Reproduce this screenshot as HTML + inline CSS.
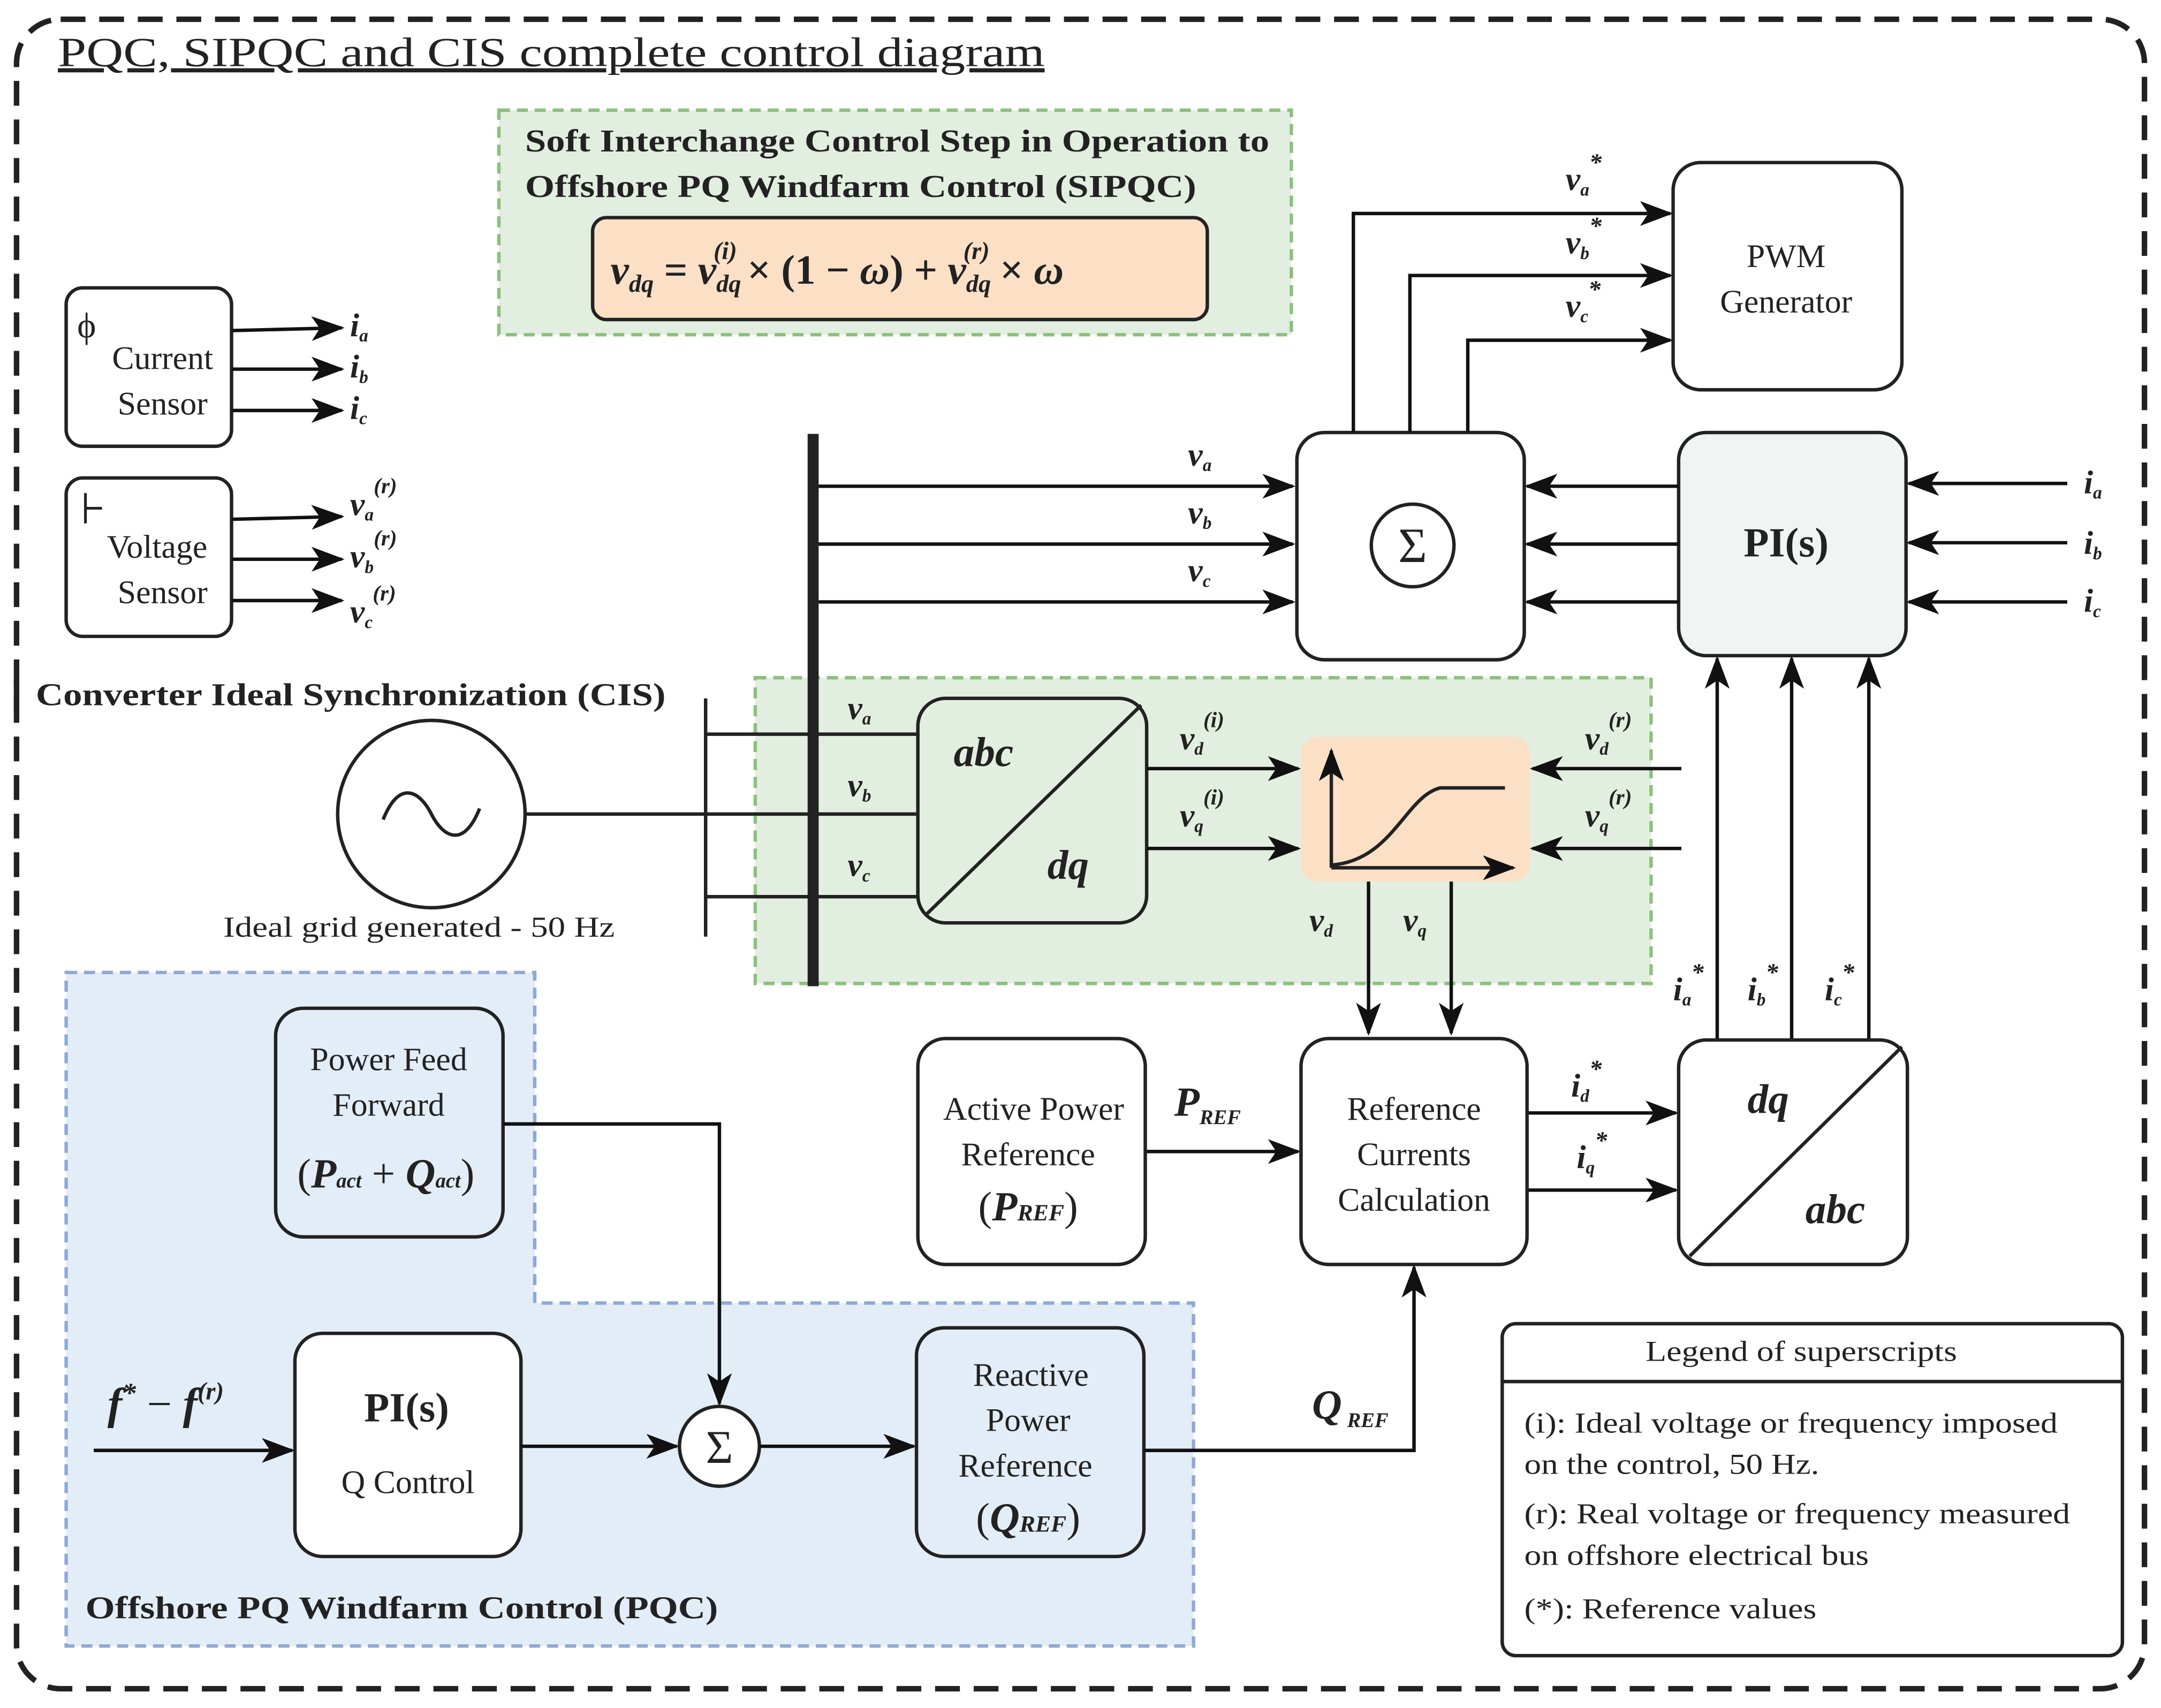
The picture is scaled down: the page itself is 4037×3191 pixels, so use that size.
<!DOCTYPE html>
<html><head><meta charset="utf-8"><style>
html,body{margin:0;padding:0;background:#fff}
svg{display:block}
text{font-family:"Liberation Serif",serif;fill:#222}
.m{font-style:italic;font-weight:bold}
</style></head><body>
<svg width="4037" height="3191" viewBox="0 0 1568 1240" preserveAspectRatio="none" xmlns="http://www.w3.org/2000/svg">
<defs>
<marker id="a" markerUnits="userSpaceOnUse" markerWidth="24" markerHeight="20" refX="22" refY="10" orient="auto">
<path d="M0,1 L24,10 L0,19 L6,10 Z" fill="#111"/></marker>
</defs>
<rect x="12" y="14" width="1544" height="1212" rx="32" fill="none" stroke="#222" stroke-width="4" stroke-dasharray="18 10"/>
<text x="42" y="48" font-size="30" text-decoration="underline" textLength="716" lengthAdjust="spacingAndGlyphs">PQC, SIPQC and CIS complete control diagram</text>

<!-- top green -->
<rect x="362" y="80" width="575" height="163" fill="#e2eedf" stroke="#8cc07e" stroke-width="2.5" stroke-dasharray="8 5"/>
<text x="381" y="110" font-size="23" font-weight="bold" textLength="540" lengthAdjust="spacingAndGlyphs">Soft Interchange Control Step in Operation to</text>
<text x="381" y="143" font-size="23" font-weight="bold" textLength="487" lengthAdjust="spacingAndGlyphs">Offshore PQ Windfarm Control (SIPQC)</text>
<rect x="430" y="158" width="446" height="74" rx="10" fill="#fbe0c6" stroke="#222" stroke-width="2.5"/>
<text x="443" y="206" font-size="30" class="m">v<tspan font-size="18" dy="6">dq</tspan><tspan dy="-6" font-style="normal"> = </tspan>v<tspan font-size="18" dy="6">dq</tspan><tspan font-size="18" dx="-20" dy="-24">(i)</tspan><tspan dy="18" font-style="normal"> × (1 − </tspan>ω<tspan font-style="normal">) + </tspan>v<tspan font-size="18" dy="6">dq</tspan><tspan font-size="18" dx="-20" dy="-24">(r)</tspan><tspan dy="18" font-style="normal"> × </tspan>ω</text>

<g stroke="#222" stroke-width="2.5" fill="none">
<rect x="48" y="209" width="120" height="115" rx="12"/>
<rect x="48" y="347" width="120" height="115" rx="12"/>
<rect x="941" y="314" width="165" height="165" rx="20" fill="#fff"/>
<rect x="1218" y="314" width="165" height="162" rx="20" fill="#f2f4f3"/>
<rect x="1214" y="118" width="166" height="165" rx="20"/>
<circle cx="1025" cy="396" r="30"/>
</g>
<text x="56" y="245" font-size="26">ϕ</text>
<line x1="62" y1="358" x2="62" y2="380" stroke="#222" stroke-width="2"/><line x1="62" y1="369" x2="74" y2="369" stroke="#222" stroke-width="2"/>
<text x="118" y="268" font-size="24" text-anchor="middle">Current</text>
<text x="118" y="301" font-size="24" text-anchor="middle">Sensor</text>
<text x="114" y="405" font-size="24" text-anchor="middle">Voltage</text>
<text x="118" y="438" font-size="24" text-anchor="middle">Sensor</text>
<g stroke="#111" stroke-width="2.5" marker-end="url(#a)">
<line x1="168" y1="240" x2="248" y2="238"/><line x1="168" y1="268" x2="248" y2="268"/><line x1="168" y1="298" x2="248" y2="298"/>
<line x1="168" y1="377" x2="248" y2="375"/><line x1="168" y1="406" x2="248" y2="406"/><line x1="168" y1="436" x2="248" y2="436"/>
</g>
<g font-size="24" class="m">
<text x="254" y="244">i<tspan font-size="13" dy="4">a</tspan></text>
<text x="254" y="274">i<tspan font-size="13" dy="4">b</tspan></text>
<text x="254" y="304">i<tspan font-size="13" dy="4">c</tspan></text>
<text x="254" y="374">v<tspan font-size="13" dy="4">a</tspan><tspan font-size="16" dy="-20">(r)</tspan></text>
<text x="254" y="412">v<tspan font-size="13" dy="4">b</tspan><tspan font-size="16" dy="-20">(r)</tspan></text>
<text x="254" y="452">v<tspan font-size="13" dy="4">c</tspan><tspan font-size="16" dy="-20">(r)</tspan></text>
</g>

<text x="26" y="512" font-size="23" font-weight="bold" textLength="457" lengthAdjust="spacingAndGlyphs">Converter Ideal Synchronization (CIS)</text>
<line x1="12" y1="494" x2="12" y2="516" stroke="#222" stroke-width="4"/>

<!-- green middle -->
<rect x="548" y="492" width="650" height="222" fill="#e2eedf" stroke="#8cc07e" stroke-width="2.5" stroke-dasharray="8 5"/>
<circle cx="313" cy="591" r="68" fill="#fff" stroke="#222" stroke-width="2.5"/>
<path d="M278,595 C290,565 305,575 313,591 C321,607 336,617 348,587" fill="none" stroke="#222" stroke-width="2.5"/>
<text x="162" y="680" font-size="21" textLength="284" lengthAdjust="spacingAndGlyphs">Ideal grid  generated - 50 Hz</text>
<g stroke="#222" stroke-width="2.5">
<line x1="381" y1="591" x2="512" y2="591"/>
<line x1="512" y1="507" x2="512" y2="680"/>
<line x1="512" y1="533" x2="666" y2="533"/><line x1="512" y1="591" x2="666" y2="591"/><line x1="512" y1="651" x2="666" y2="651"/>
</g>
<rect x="666" y="507" width="166" height="163" rx="20" fill="#e2eedf" stroke="#222" stroke-width="2.5"/>
<line x1="672" y1="664" x2="828" y2="512" stroke="#222" stroke-width="2.5"/>
<text x="692" y="556" font-size="30" class="m">abc</text>
<text x="760" y="638" font-size="30" class="m">dq</text>
<line x1="590" y1="315" x2="590" y2="716" stroke="#222" stroke-width="8"/>
<g font-size="24" class="m">
<text x="615" y="522">v<tspan font-size="13" dy="4">a</tspan></text>
<text x="615" y="578">v<tspan font-size="13" dy="4">b</tspan></text>
<text x="615" y="636">v<tspan font-size="13" dy="4">c</tspan></text>
<text x="862" y="338">v<tspan font-size="13" dy="4">a</tspan></text>
<text x="862" y="380">v<tspan font-size="13" dy="4">b</tspan></text>
<text x="862" y="422">v<tspan font-size="13" dy="4">c</tspan></text>
<text x="856" y="544">v<tspan font-size="13" dy="4">d</tspan><tspan font-size="16" dy="-20">(i)</tspan></text>
<text x="856" y="600">v<tspan font-size="13" dy="4">q</tspan><tspan font-size="16" dy="-20">(i)</tspan></text>
<text x="1150" y="544">v<tspan font-size="13" dy="4">d</tspan><tspan font-size="16" dy="-20">(r)</tspan></text>
<text x="1150" y="600">v<tspan font-size="13" dy="4">q</tspan><tspan font-size="16" dy="-20">(r)</tspan></text>
<text x="950" y="676">v<tspan font-size="13" dy="4">d</tspan></text>
<text x="1018" y="676">v<tspan font-size="13" dy="4">q</tspan></text>
<text x="1136" y="138">v<tspan font-size="13" dy="4">a</tspan><tspan font-size="18" dy="-18">*</tspan></text>
<text x="1136" y="184">v<tspan font-size="13" dy="4">b</tspan><tspan font-size="18" dy="-18">*</tspan></text>
<text x="1136" y="230">v<tspan font-size="13" dy="4">c</tspan><tspan font-size="18" dy="-18">*</tspan></text>
<text x="1512" y="358">i<tspan font-size="13" dy="4">a</tspan></text>
<text x="1512" y="402">i<tspan font-size="13" dy="4">b</tspan></text>
<text x="1512" y="444">i<tspan font-size="13" dy="4">c</tspan></text>
<text x="1214" y="726">i<tspan font-size="13" dy="4">a</tspan><tspan font-size="18" dy="-18">*</tspan></text>
<text x="1268" y="726">i<tspan font-size="13" dy="4">b</tspan><tspan font-size="18" dy="-18">*</tspan></text>
<text x="1324" y="726">i<tspan font-size="13" dy="4">c</tspan><tspan font-size="18" dy="-18">*</tspan></text>
<text x="1140" y="796">i<tspan font-size="13" dy="4">d</tspan><tspan font-size="18" dy="-18">*</tspan></text>
<text x="1144" y="848">i<tspan font-size="13" dy="4">q</tspan><tspan font-size="18" dy="-18">*</tspan></text>
<text x="852" y="810" font-size="30">P<tspan font-size="15" dy="6">REF</tspan></text>
<text x="952" y="1030" font-size="30">Q<tspan font-size="15" dy="6"> REF</tspan></text>
</g>
<rect x="944" y="535" width="166" height="105" rx="12" fill="#fbe0c6"/>
<g stroke="#222" stroke-width="2.5" fill="none">
<line x1="966" y1="630" x2="966" y2="545" marker-end="url(#a)"/>
<line x1="966" y1="630" x2="1098" y2="630" marker-end="url(#a)"/>
<path d="M966,628 C1010,625 1020,578 1045,572 L1092,572"/>
</g>
<text x="1025" y="408" font-size="36" text-anchor="middle">Σ</text>
<text x="1296" y="404" font-size="30" font-weight="bold" text-anchor="middle">PI(s)</text>
<text x="1296" y="194" font-size="24" text-anchor="middle">PWM</text>
<text x="1296" y="227" font-size="24" text-anchor="middle">Generator</text>

<g stroke="#111" stroke-width="2.5" fill="none">
<line x1="594" y1="353" x2="938" y2="353" marker-end="url(#a)"/>
<line x1="594" y1="395" x2="938" y2="395" marker-end="url(#a)"/>
<line x1="594" y1="437" x2="938" y2="437" marker-end="url(#a)"/>
<line x1="1218" y1="353" x2="1108" y2="353" marker-end="url(#a)"/>
<line x1="1218" y1="395" x2="1108" y2="395" marker-end="url(#a)"/>
<line x1="1218" y1="437" x2="1108" y2="437" marker-end="url(#a)"/>
<line x1="1500" y1="351" x2="1385" y2="351" marker-end="url(#a)"/>
<line x1="1500" y1="394" x2="1385" y2="394" marker-end="url(#a)"/>
<line x1="1500" y1="437" x2="1385" y2="437" marker-end="url(#a)"/>
<polyline points="982,314 982,155 1212,155" marker-end="url(#a)"/>
<polyline points="1023,314 1023,200 1212,200" marker-end="url(#a)"/>
<polyline points="1065,314 1065,247 1212,247" marker-end="url(#a)"/>
<line x1="832" y1="558" x2="942" y2="558" marker-end="url(#a)"/>
<line x1="832" y1="616" x2="942" y2="616" marker-end="url(#a)"/>
<line x1="1220" y1="558" x2="1112" y2="558" marker-end="url(#a)"/>
<line x1="1220" y1="616" x2="1112" y2="616" marker-end="url(#a)"/>
<line x1="993" y1="640" x2="993" y2="750" marker-end="url(#a)"/>
<line x1="1053" y1="640" x2="1053" y2="750" marker-end="url(#a)"/>
<line x1="831" y1="836" x2="942" y2="836" marker-end="url(#a)"/>
<line x1="1108" y1="808" x2="1216" y2="808" marker-end="url(#a)"/>
<line x1="1108" y1="864" x2="1216" y2="864" marker-end="url(#a)"/>
<line x1="1246" y1="755" x2="1246" y2="478" marker-end="url(#a)"/>
<line x1="1300" y1="755" x2="1300" y2="478" marker-end="url(#a)"/>
<line x1="1356" y1="755" x2="1356" y2="478" marker-end="url(#a)"/>
</g>

<!-- blue region -->
<path d="M48,706 L388,706 L388,946 L866,946 L866,1195 L48,1195 Z" fill="#e3edf7" stroke="#8fa9d4" stroke-width="2.5" stroke-dasharray="8 5"/>
<g stroke="#222" stroke-width="2.5">
<rect x="666" y="754" width="165" height="164" rx="20" fill="#fff"/>
<rect x="944" y="754" width="164" height="164" rx="20" fill="#fff"/>
<rect x="1218" y="755" width="166" height="163" rx="20" fill="#fff"/>
<line x1="1226" y1="912" x2="1380" y2="760"/>
<rect x="200" y="732" width="165" height="166" rx="20" fill="#e3edf7"/>
<rect x="214" y="968" width="164" height="162" rx="20" fill="#fff"/>
<rect x="665" y="964" width="165" height="166" rx="20" fill="#e3edf7"/>
<circle cx="522" cy="1050" r="29" fill="#fff"/>
</g>
<text x="78" y="1030" font-size="32" class="m">f<tspan font-size="20" dy="-12">*</tspan><tspan dy="12" font-style="normal" font-weight="normal"> − </tspan>f<tspan font-size="18" dy="-14">(r)</tspan></text>
<text x="522" y="1062" font-size="34" text-anchor="middle">Σ</text>
<text x="1268" y="808" font-size="30" class="m">dq</text>
<text x="1310" y="888" font-size="30" class="m">abc</text>
<text x="750" y="813" font-size="24" text-anchor="middle">Active Power</text>
<text x="746" y="846" font-size="24" text-anchor="middle">Reference</text>
<text x="746" y="886" font-size="30" text-anchor="middle"><tspan>(</tspan><tspan class="m">P</tspan><tspan class="m" font-size="17">REF</tspan><tspan>)</tspan></text>
<text x="1026" y="813" font-size="24" text-anchor="middle">Reference</text>
<text x="1026" y="846" font-size="24" text-anchor="middle">Currents</text>
<text x="1026" y="879" font-size="24" text-anchor="middle">Calculation</text>
<text x="282" y="777" font-size="24" text-anchor="middle">Power Feed</text>
<text x="282" y="810" font-size="24" text-anchor="middle">Forward</text>
<text x="280" y="862" font-size="30" text-anchor="middle">(<tspan class="m">P</tspan><tspan class="m" font-size="15">act</tspan> + <tspan class="m">Q</tspan><tspan class="m" font-size="15">act</tspan>)</text>
<text x="295" y="1032" font-size="30" font-weight="bold" text-anchor="middle">PI(s)</text>
<text x="296" y="1084" font-size="24" text-anchor="middle">Q Control</text>
<text x="748" y="1006" font-size="24" text-anchor="middle">Reactive</text>
<text x="746" y="1039" font-size="24" text-anchor="middle">Power</text>
<text x="744" y="1072" font-size="24" text-anchor="middle">Reference</text>
<text x="746" y="1112" font-size="30" text-anchor="middle">(<tspan class="m">Q</tspan><tspan class="m" font-size="17">REF</tspan>)</text>
<text x="62" y="1175" font-size="23" font-weight="bold" textLength="459" lengthAdjust="spacingAndGlyphs">Offshore PQ Windfarm Control (PQC)</text>
<g stroke="#111" stroke-width="2.5" fill="none">
<polyline points="365,816 522,816 522,1019" marker-end="url(#a)"/>
<line x1="68" y1="1053" x2="212" y2="1053" marker-end="url(#a)"/>
<line x1="378" y1="1050" x2="491" y2="1050" marker-end="url(#a)"/>
<line x1="551" y1="1050" x2="663" y2="1050" marker-end="url(#a)"/>
<polyline points="830,1053 1026,1053 1026,920" marker-end="url(#a)"/>
</g>

<!-- legend -->
<rect x="1090" y="961" width="450" height="241" rx="10" fill="#fff" stroke="#222" stroke-width="2.5"/>
<line x1="1090" y1="1003" x2="1540" y2="1003" stroke="#222" stroke-width="2.5"/>
<text x="1307" y="988" font-size="21" text-anchor="middle" textLength="226" lengthAdjust="spacingAndGlyphs">Legend of superscripts</text>
<g font-size="21">
<text x="1106" y="1040" textLength="387" lengthAdjust="spacingAndGlyphs">(i): Ideal voltage or frequency imposed</text>
<text x="1106" y="1070" textLength="214" lengthAdjust="spacingAndGlyphs">on the control, 50 Hz.</text>
<text x="1106" y="1106" textLength="396" lengthAdjust="spacingAndGlyphs">(r): Real voltage or frequency measured</text>
<text x="1106" y="1136" textLength="250" lengthAdjust="spacingAndGlyphs">on offshore electrical bus</text>
<text x="1106" y="1175" textLength="212" lengthAdjust="spacingAndGlyphs">(*): Reference values</text>
</g>
</svg>
</body></html>
